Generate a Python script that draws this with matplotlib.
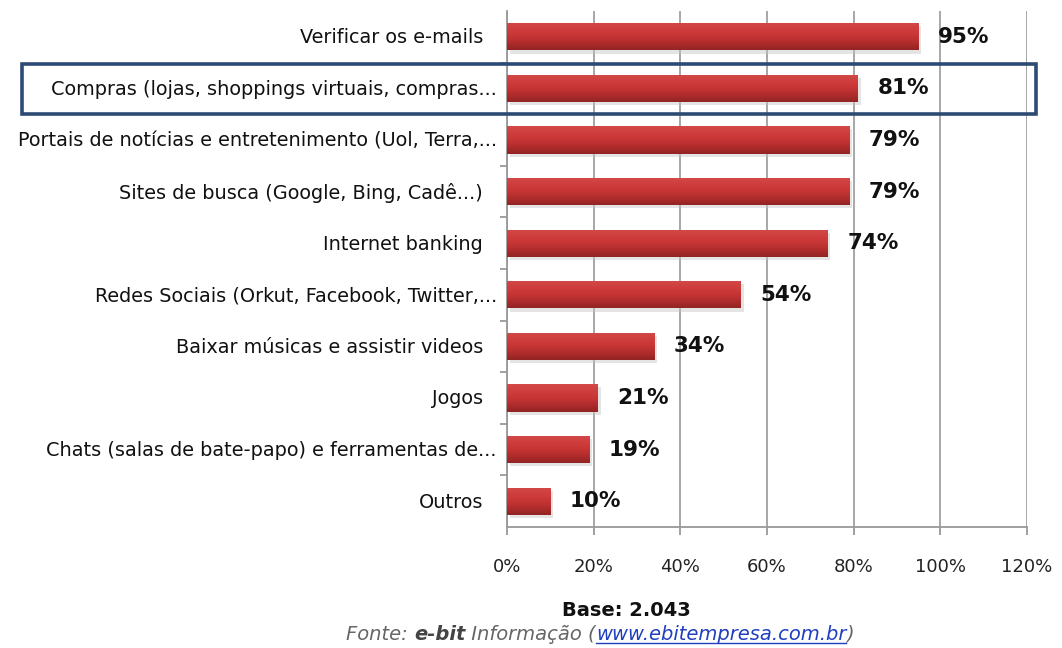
import matplotlib
matplotlib.use("Agg")
import numpy as np
import matplotlib.pyplot as plt
import matplotlib.transforms as mtransforms
from matplotlib.colors import LinearSegmentedColormap
from matplotlib.lines import Line2D
from matplotlib.patches import Rectangle

categories = [
    "Verificar os e-mails",
    "Compras (lojas, shoppings virtuais, compras...",
    "Portais de notícias e entretenimento (Uol, Terra,...",
    "Sites de busca (Google, Bing, Cadê...)",
    "Internet banking",
    "Redes Sociais (Orkut, Facebook, Twitter,...",
    "Baixar músicas e assistir videos",
    "Jogos",
    "Chats (salas de bate-papo) e ferramentas de...",
    "Outros",
]
values = [95, 81, 79, 79, 74, 54, 34, 21, 19, 10]
xticks = [0, 20, 40, 60, 80, 100, 120]
xtick_labels = ["0%", "20%", "40%", "60%", "80%", "100%", "120%"]
highlight_index = 1

plt.rcParams["font.family"] = ["DejaVu Sans"]

W, H = 1062, 648
fig = plt.figure(figsize=(W / 100, H / 100), dpi=100)
ax = fig.add_axes([507 / W, 1 - 527 / H, (1027 - 507) / W, (527 - 11) / H])

ypos = np.arange(len(categories))
bar_h = 0.53

# vertical red gradient used to shade the bars
bar_cmap = LinearSegmentedColormap.from_list(
    "bar_red", ["#d24a4a", "#cf3d3d", "#c73535", "#b02c2c", "#922424"])
grad = np.linspace(0, 1, 64).reshape(-1, 1)

# soft drop shadow behind each bar
ax.barh(ypos + 0.06, values, height=bar_h, left=0.6,
        color="#c4c4c4", alpha=0.45, linewidth=0, zorder=2)
bars = ax.barh(ypos, values, height=bar_h, color="#c93434",
               linewidth=0, zorder=3)
for bar, y, v in zip(bars, ypos, values):
    im = ax.imshow(grad, cmap=bar_cmap, aspect="auto", interpolation="bicubic",
                   extent=[0, v, y + bar_h / 2, y - bar_h / 2], zorder=4)
    im.set_clip_path(bar)

for y, v in zip(ypos, values):
    ax.text(v + 4.5, y, f"{v}%", va="center", ha="left", fontsize=15.5,
            fontweight="bold", color="#111111", zorder=5)

ax.set_xlim(0, 120)
ax.set_ylim(len(categories) - 0.5, -0.5)
ax.set_xticks(xticks)
ax.set_xticklabels(xtick_labels, fontsize=13, color="#222222")
ax.set_yticks(ypos)
ax.set_yticklabels([])
ax.set_yticks(ypos[:-1] + 0.5, minor=True)

# category names, right-aligned next to the axis
ytrans = ax.get_yaxis_transform()
for y, name in zip(ypos, categories):
    shift = -10 if name.endswith("...") else -24
    tr = mtransforms.offset_copy(ytrans, fig=fig, x=shift, y=-1, units="dots")
    ax.text(0, y, name, transform=tr, ha="right", va="center",
            fontsize=13.9, color="#111111", clip_on=False)

ax.grid(axis="x", color="#a0a0a0", linewidth=1.3, zorder=0)
ax.set_axisbelow(True)
for side in ("top", "right"):
    ax.spines[side].set_visible(False)
for side in ("left", "bottom"):
    ax.spines[side].set_color("#999999")
    ax.spines[side].set_linewidth(1.3)

ax.tick_params(axis="y", which="major", length=0)
ax.tick_params(axis="y", which="minor", length=5, color="#999999", width=1.3)
ax.tick_params(axis="x", length=6, color="#999999", width=1.3, pad=16)

# frame around the highlighted category
fig.patches.append(Rectangle((22 / W, 1 - 114 / H), (1036 - 22) / W, 50 / H,
                             transform=fig.transFigure, fill=False,
                             edgecolor="#2d4a73", linewidth=2.6, zorder=10))

fig.text(626 / W, 1 - 610 / H, "Base: 2.043", ha="center", va="center",
         fontsize=14, fontweight="bold", color="#111111")

# source line built from consecutive pieces
pieces = [
    ("Fonte: ", "normal", "#666666"),
    ("e-bit", "bold", "#444444"),
    (" Informação (", "normal", "#666666"),
    ("www.ebitempresa.com.br", "normal", "#1f3fbf"),
    (")", "normal", "#666666"),
]
fs = 14
texts = []
for s, weight, col in pieces:
    t = fig.text(0, 1 - 634 / H, s, ha="left", va="center", fontsize=fs,
                 style="italic", fontweight=weight, color=col)
    texts.append(t)
fig.canvas.draw()
renderer = fig.canvas.get_renderer()
widths = [t.get_window_extent(renderer).width for t in texts]
x = 600 - sum(widths) / 2
for t, w in zip(texts, widths):
    t.set_x(x / W)
    x += w
fig.canvas.draw()
url_box = texts[3].get_window_extent(renderer)
fig.add_artist(Line2D([url_box.x0 / W, url_box.x1 / W],
                      [(url_box.y0 + 1) / H] * 2,
                      transform=fig.transFigure, color="#1f3fbf",
                      linewidth=1.0))

fig.savefig("out.png", dpi=100)
